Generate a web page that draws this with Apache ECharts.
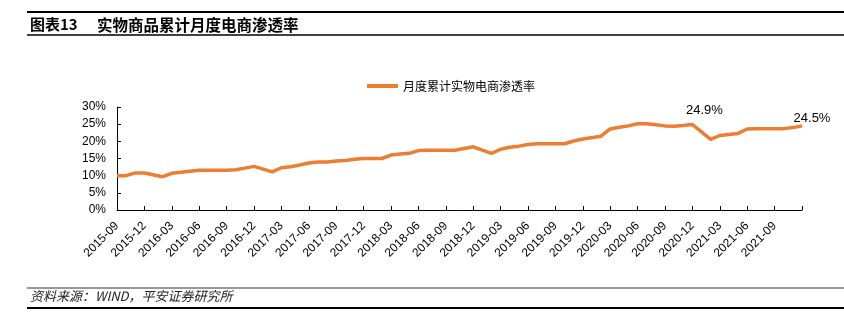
<!DOCTYPE html>
<html>
<head>
<meta charset="utf-8">
<script src="https://cdn.jsdelivr.net/npm/echarts@6/dist/echarts.min.js"></script>
<style>
html,body{margin:0;padding:0;background:#fff;}
#chart{width:844px;height:325px;}
</style>
</head>
<body>
<div id="chart"></div>
<script>
var categories = [
 '2015-09','2015-10','2015-11','2015-12',
 '2016-01','2016-02','2016-03','2016-04','2016-05','2016-06','2016-07','2016-08','2016-09','2016-10','2016-11','2016-12',
 '2017-01','2017-02','2017-03','2017-04','2017-05','2017-06','2017-07','2017-08','2017-09','2017-10','2017-11','2017-12',
 '2018-01','2018-02','2018-03','2018-04','2018-05','2018-06','2018-07','2018-08','2018-09','2018-10','2018-11','2018-12',
 '2019-01','2019-02','2019-03','2019-04','2019-05','2019-06','2019-07','2019-08','2019-09','2019-10','2019-11','2019-12',
 '2020-01','2020-02','2020-03','2020-04','2020-05','2020-06','2020-07','2020-08','2020-09','2020-10','2020-11','2020-12',
 '2021-01','2021-02','2021-03','2021-04','2021-05','2021-06','2021-07','2021-08','2021-09','2021-10','2021-11','2021-12'
];
// January has no separate figure (Jan-Feb published together)
var penetration = [
 10.0,10.0,10.8,10.8,
 null,9.7,10.7,11.0,11.3,11.6,11.6,11.6,11.6,11.7,12.2,12.7,
 null,11.1,12.3,12.6,13.1,13.7,14.0,14.0,14.3,14.4,14.8,15.0,
 null,15.0,16.0,16.3,16.5,17.3,17.4,17.4,17.4,17.4,17.9,18.4,
 null,16.5,17.7,18.3,18.6,19.1,19.3,19.3,19.3,19.3,20.1,20.7,
 null,21.5,23.6,24.1,24.5,25.1,25.1,24.8,24.5,24.4,24.6,24.9,
 null,20.6,21.7,22.0,22.3,23.6,23.7,23.7,23.7,23.7,24.0,24.5
];
var labelledMonths = ['2020-12','2021-12'];
var seriesName = '月度累计实物电商渗透率';
var yTicks = [0,5,10,15,20,25,30];

var lineColor = '#ED7D31';
var seriesData = penetration.map(function(v, i){
  var item = {value: v};
  var k = labelledMonths.indexOf(categories[i]);
  if (k >= 0) {
    item.symbol = 'circle';
    item.symbolSize = 1;
    item.label = {
      show: true,
      position: 'top',
      distance: 4,
      offset: k === 0 ? [12, -3] : [10, 4],
      formatter: function(p){ return Number(p.value).toFixed(1) + '%'; },
      fontFamily: 'Liberation Sans, Arial, sans-serif',
      fontSize: 13,
      color: '#000'
    };
  }
  return item;
});

var chart = echarts.init(document.getElementById('chart'), null, {renderer:'canvas'});
var cjk = '"Noto Sans CJK SC", sans-serif';
chart.setOption({
  animation: false,
  backgroundColor: '#fff',
  grid: {left: 117, right: 42, top: 107, bottom: 115, containLabel: false},
  legend: {
    data: [seriesName],
    left: 362, top: 75,
    icon: 'rect', itemWidth: 31, itemHeight: 4, itemGap: 5,
    textStyle: {fontFamily: cjk, fontSize: 12, color: '#000'}
  },
  xAxis: {
    type: 'category',
    data: categories,
    boundaryGap: false,
    axisLine: {lineStyle: {color: '#000', width: 1}},
    axisTick: {show: true, inside: true, length: 4, interval: 2, lineStyle: {color: '#000'}},
    axisLabel: {
      interval: 2, rotate: 45, margin: 14,
      fontFamily: 'Liberation Sans, Arial, sans-serif', fontSize: 12, color: '#000',
      formatter: function(v){ return v === categories[categories.length-1] ? '' : v; }
    },
    splitLine: {show: false}
  },
  yAxis: {
    type: 'value',
    min: yTicks[0], max: yTicks[yTicks.length-1], interval: 5,
    axisLine: {show: true, lineStyle: {color: '#000', width: 1}},
    axisTick: {show: true, inside: true, length: 4, lineStyle: {color: '#000'}},
    axisLabel: {
      margin: 11, fontFamily: 'Liberation Sans, Arial, sans-serif', fontSize: 12, color: '#000',
      formatter: '{value}%'
    },
    splitLine: {show: false}
  },
  series: [{
    name: seriesName,
    type: 'line',
    data: seriesData,
    connectNulls: true,
    symbol: 'none',
    showSymbol: true,
    lineStyle: {color: lineColor, width: 3.5},
    itemStyle: {color: lineColor}
  }],
  graphic: [
    {type: 'line', shape: {x1: 27, y1: 12, x2: 844, y2: 12}, style: {stroke: '#000', lineWidth: 2}},
    {type: 'text', left: 30, top: 17, style: {text: '图表13', font: 'bold 15px ' + cjk, fill: '#000'}},
    {type: 'text', left: 97, top: 17, style: {text: '实物商品累计月度电商渗透率', font: 'bold 15.5px ' + cjk, fill: '#000'}},
    {type: 'line', shape: {x1: 27, y1: 35, x2: 844, y2: 35}, style: {stroke: '#000', lineWidth: 1.5}},
    {type: 'line', shape: {x1: 27, y1: 288, x2: 844, y2: 288}, style: {stroke: '#333', lineWidth: 1.2}},
    {type: 'text', left: 30, top: 290, style: {text: '资料来源：WIND，平安证券研究所', font: 'italic 13px ' + cjk, fill: '#222'}},
    {type: 'line', shape: {x1: 27, y1: 308, x2: 844, y2: 308}, style: {stroke: '#000', lineWidth: 2}}
  ]
});
</script>
</body>
</html>
